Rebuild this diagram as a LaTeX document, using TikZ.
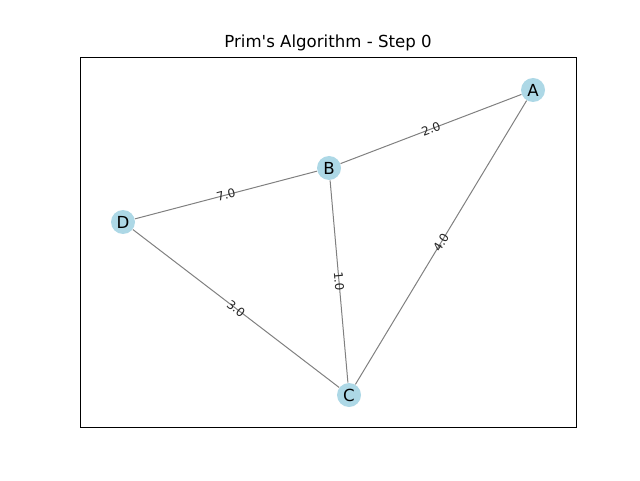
\documentclass[tikz,border=0pt]{standalone}
\usepackage{fontspec}
\newfontfamily\mplfont{DejaVu Sans}
\usetikzlibrary{positioning}

\begin{document}
\begin{tikzpicture}[x=0.5pt, y=-0.5pt,
    vertex/.style={circle, fill={rgb,255:red,173;green,216;blue,230}, minimum size=12pt, inner sep=0pt, font=\mplfont\fontsize{8.3}{9}\selectfont},
    edge/.style={draw=gray, line width=0.5pt},
    weight/.style={sloped, inner sep=0pt, font=\mplfont\fontsize{6}{7}\selectfont, text=black!85}]
  \useasboundingbox (0,0) rectangle (640,480);
  % axes frame and title
  \draw[line width=0.5pt] (80,58) rectangle (576,427);
  \node[font=\mplfont\fontsize{8.3}{9}\selectfont] (title) at (328,43) {Prim's Algorithm - Step 0};
  % vertices
  \node[vertex] (A) at (533,90) {A};
  \node[vertex] (B) at (329,168) {B};
  \node[vertex] (C) at (349,395) {C};
  \node[vertex] (D) at (123,222) {D};
  % weighted edges
  \draw[edge] (B) -- node[weight] {2.0} (A);
  \draw[edge] (D) -- node[weight] {7.0} (B);
  \draw[edge] (B) -- node[weight] {1.0} (C);
  \draw[edge] (A) -- node[weight] {4.0} (C);
  \draw[edge] (D) -- node[weight] {3.0} (C);
\end{tikzpicture}
\end{document}
